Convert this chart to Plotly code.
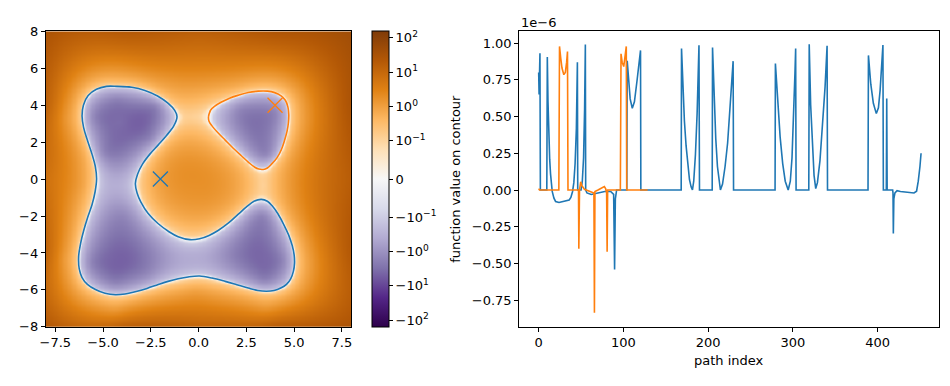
import numpy as np
import plotly.graph_objects as go

# ---------------- data ----------------
# zero-level contour (blue, large region), data coordinates
blue_cx = [-4.28, -3.50, -2.81, -2.15, -1.59, -1.25, -1.13, -1.30, -1.68, -2.11, -2.55, -2.93, -3.20, -3.31,
           -3.22, -3.02, -2.65, -2.11, -1.55, -1.07, -0.45, 0.05, 0.55, 1.04, 1.60, 2.08, 2.55, 2.90, 3.28,
           3.60, 3.85, 4.15, 4.45, 4.72, 4.90, 5.00, 5.02, 4.96, 4.82, 4.60, 4.30, 3.95, 3.55, 3.10, 2.60,
           2.00, 1.39, 0.70, 0.05, -0.55, -1.07, -1.60, -2.11, -2.70, -3.32, -3.85, -4.36, -4.90, -5.40,
           -5.82, -6.10, -6.25, -6.28, -6.17, -6.01, -5.80, -5.58, -5.42, -5.34, -5.40, -5.58, -5.82, -6.02,
           -6.10, -6.03, -5.78, -5.35, -4.82]
blue_cy = [5.02, 4.97, 4.80, 4.50, 4.10, 3.72, 3.38, 2.88, 2.36, 1.85, 1.35, 0.82, 0.25, -0.25,
           -0.75, -1.25, -1.85, -2.42, -2.85, -3.12, -3.28, -3.23, -3.05, -2.77, -2.35, -1.90, -1.47, -1.20, -1.10,
           -1.20, -1.45, -1.88, -2.45, -3.05, -3.60, -4.10, -4.55, -5.00, -5.40, -5.70, -5.90, -6.03, -6.07, -6.03, -5.90,
           -5.72, -5.54, -5.36, -5.25, -5.30, -5.40, -5.54, -5.71, -5.92, -6.10, -6.22, -6.26, -6.18, -5.98,
           -5.70, -5.33, -4.85, -4.20, -3.45, -2.77, -2.05, -1.39, -0.70, 0.00, 0.65, 1.35, 2.10, 2.80,
           3.41, 4.00, 4.52, 4.86, 5.02]
# zero-level contour (orange, upper-right region)
orange_cx = [0.52, 0.62, 0.85, 1.20, 1.62, 2.08, 2.60, 3.12, 3.60, 3.98, 4.30, 4.54, 4.67, 4.72, 4.70, 4.63,
             4.50, 4.33, 4.10, 3.83, 3.60, 3.38, 3.15, 2.94, 2.60, 2.25, 1.80, 1.39, 1.00, 0.70, 0.54]
orange_cy = [3.40, 3.72, 3.95, 4.17, 4.38, 4.54, 4.69, 4.76, 4.76, 4.68, 4.52, 4.27, 3.92, 3.50, 3.05, 2.60,
             2.10, 1.59, 1.15, 0.82, 0.60, 0.52, 0.54, 0.64, 0.92, 1.25, 1.68, 2.11, 2.52, 2.88, 3.15]

# function values estimated from the colours of the image
samp_x = [-4.1, -4.5, 3.4, 3.3, -4.3, -0.3,
          -4.3, -5.4, -2.3, -2.6, -4.9,
          -5.55, -4.4, -2.8, -4.0,
          4.3, 3.4, 3.3, 1.8,
          4.0, 2.2, 3.5,
          -0.3, -0.28, 3.38,
          -4.3, -1.6, 3.1, 5.55, 5.85, 3.5, -0.2, -4.4, -7.05, -6.15, -6.9,
          -8, -4, 0, 4, 8, 8, 8, 8, 8, 4, 0, -4, -8, -8, -8, -8]
samp_y = [3.1, -4.3, -4.3, 3.0, -0.3, -4.3,
          4.3, 3.4, 3.9, 2.3, 1.5,
          -4.5, -5.55, -5.1, -2.0,
          -4.4, -5.4, -2.0, -4.1,
          3.6, 3.8, 1.4,
          -0.4, 3.42, -0.30,
          5.85, 5.3, 5.6, 3.2, -4.5, -6.9, -6.1, -7.05, -4.3, -0.3, 3.3,
          8, 8, 8, 8, 8, 4, 0, -4, -8, -8, -8, -8, -8, -4, 0, 4]
samp_f = [-3.6, -4.4, -4.0, -3.0, -0.35, -0.4,
          -1.8, -1.8, -1.8, -1.8, -1.8,
          -1.8, -1.8, -1.5, -1.5,
          -1.8, -1.8, -1.6, -1.8,
          -1.5, -1.5, -1.5,
          1.7, 0.12, 0.12,
          1.2, 1.2, 1.2, 1.2, 1.2, 1.2, 1.0, 1.2, 1.2, 0.9, 1.2,
          30, 20, 15, 25, 45, 30, 18, 22, 30, 18, 12, 15, 25, 12, 7, 14]

start_x = [-2.0, 4.0]
start_y = [0.0, 4.0]

# right panel: function value on contour (units of 1e-6)
blue_idx = [0, 0.5, 1.5, 2.0, 9.6, 10.2, 11, 12, 13, 14, 15, 16, 18, 20, 24, 28, 32, 36, 38, 40, 41.5, 43,
            44.5, 45.7, 46.1, 50, 51.5, 53, 54.2, 55.1, 55.5, 57, 62, 70, 78, 85, 88.5, 89.6, 90.5, 92,
            104, 104.5, 106, 108, 110.5, 113, 116, 118.5, 120.2, 120.6,
            168.2, 168.6, 170, 172, 174, 176, 178, 180, 181.5, 183, 185, 187, 188.3, 189.2, 189.8,
            204.8, 205.2, 207, 209, 211, 213, 214.5, 217, 220, 223, 226, 228.5, 229.5, 230,
            279, 279.4, 282, 285, 288, 291, 294.5, 297, 299, 301, 302.5, 303.3, 303.8,
            318.8, 319.3, 321, 323, 325, 327, 329, 332, 335, 338, 340.4, 340.9,
            388.7, 389.2, 392, 395, 398.5, 401, 403, 405, 406.3, 406.8,
            410.3, 410.8, 411.3, 417.8, 418.2, 418.6, 419.2, 420.5, 423, 427, 432, 438, 443, 446, 448, 450, 451.3]
blue_val = [0.80, 0.65, 0.93, 0.0, 0.0, 0.905, 0.60, 0.36, 0.21, 0.11, 0.04, -0.01, -0.055, -0.078, -0.085,
            -0.08, -0.075, -0.068, -0.05, -0.01, 0.05, 0.18,
            0.42, 0.87, 0.0, 0.0, 0.06, 0.22, 0.55, 0.99, 0.0, -0.02, -0.03, -0.02, -0.01, -0.01, -0.03, -0.54,
            -0.06, 0.0,
            0.0, 0.88, 0.74, 0.62, 0.556, 0.60, 0.74, 0.87, 0.95, 0.0,
            0.0, 0.963, 0.70, 0.47, 0.30, 0.17, 0.07, 0.02, 0.0, 0.06, 0.24, 0.52, 0.78, 0.985, 0.0,
            0.0, 0.97, 0.62, 0.35, 0.16, 0.04, 0.0, 0.04, 0.16, 0.32, 0.55, 0.78, 0.877, 0.0,
            0.0, 0.861, 0.60, 0.36, 0.18, 0.06, 0.0, 0.06, 0.22, 0.50, 0.80, 0.963, 0.0,
            0.0, 0.992, 0.58, 0.30, 0.10, 0.01, 0.05, 0.20, 0.42, 0.70, 0.981, 0.0,
            0.0, 0.916, 0.72, 0.59, 0.52, 0.56, 0.68, 0.86, 0.987, 0.0,
            0.0, 0.622, 0.0, 0.0, -0.02, -0.296, -0.06, -0.02, -0.005, -0.01, -0.012, -0.016, -0.02, -0.008,
            0.06, 0.16, 0.25]
orange_idx = [0, 1, 23.8, 24.6, 26, 27.5, 29.7, 31.5, 33, 34, 34.6, 47.0, 47.4, 48.2, 49.6, 51, 54, 58, 62,
              65.2, 65.8, 66.4, 70, 74, 77.5, 79, 80.2, 80.8, 81.4, 83, 96.4, 97.2, 98.5, 100.4, 102, 103.4,
              103.9, 128.6]
orange_val = [0.01, 0.0, 0.0, 0.977, 0.90, 0.83, 0.785, 0.80, 0.87, 0.942, 0.0, 0.0, -0.40, 0.0, 0.056, 0.03,
              0.005, -0.005, -0.01, -0.02, -0.836, -0.01, 0.0, 0.01, 0.024, 0.01, -0.02, -0.42, 0.0, 0.0, 0.0,
              0.927, 0.87, 0.84, 0.90, 0.977, 0.0, 0.0]

cbar_vals = [100, 10, 1, 0.1, 0, -0.1, -1, -10, -100]
cbar_text = ["10<sup>2</sup>", "10<sup>1</sup>", "10<sup>0</sup>", "10<sup>\u22121</sup>", "0",
             "\u221210<sup>\u22121</sup>", "\u221210<sup>0</sup>", "\u221210<sup>1</sup>", "\u221210<sup>2</sup>"]
vmax = 158.0

# ---------------- helpers ----------------
def symlog(f, lt=0.1, ls=1.0):
    f = np.asarray(f, dtype=float)
    adj = ls / (1 - 1 / 10.0)
    a = np.abs(f)
    out = np.where(a <= lt, a / lt * adj, adj + np.log10(np.maximum(a, 1e-300) / lt))
    return np.sign(f) * out

def tps_kernel(r):
    with np.errstate(divide="ignore", invalid="ignore"):
        k = r * r * np.log(r)
    return np.where(r > 0, k, 0.0)

# scattered values -> smooth field (thin plate spline through the read values)
C = 0.5
px = np.concatenate([blue_cx, orange_cx, samp_x])
py = np.concatenate([blue_cy, orange_cy, samp_y])
pf = np.concatenate([np.zeros(len(blue_cx) + len(orange_cx)), samp_f])
ps = np.arcsinh(pf / C)
N = len(px)
R = np.hypot(px[:, None] - px[None, :], py[:, None] - py[None, :])
K = tps_kernel(R)
Q = np.column_stack([np.ones(N), px, py])
A = np.zeros((N + 3, N + 3))
A[:N, :N] = K
A[:N, N:] = Q
A[N:, :N] = Q.T
rhs = np.concatenate([ps, np.zeros(3)])
coef = np.linalg.lstsq(A, rhs, rcond=None)[0]
w, a = coef[:N], coef[N:]

ng = 240
d = 16.0 / ng
gx = np.linspace(-8 + d / 2, 8 - d / 2, ng)
gy = np.linspace(-8 + d / 2, 8 - d / 2, ng)
GX, GY = np.meshgrid(gx, gy)
gxf, gyf = GX.ravel(), GY.ravel()
Rg = np.hypot(gxf[:, None] - px[None, :], gyf[:, None] - py[None, :])
S = tps_kernel(Rg) @ w + a[0] + a[1] * gxf + a[2] * gyf
F = (C * np.sinh(S)).reshape(ng, ng)
T = symlog(F)
tmax = float(symlog(vmax))

puor = ['rgb(45,0,75)', 'rgb(84,39,136)', 'rgb(128,115,172)', 'rgb(178,171,210)', 'rgb(216,218,235)',
        'rgb(247,247,247)', 'rgb(254,224,182)', 'rgb(253,184,99)', 'rgb(224,130,20)', 'rgb(179,88,6)',
        'rgb(127,59,8)']
cscale = [[i / 10, c] for i, c in enumerate(puor)]

BLUE = "#1f77b4"
ORANGE = "#ff7f0e"
FONT = "DejaVu Sans"
FS = 13

# the page body has an 8px margin on every side: size the figure so that the
# page fits the window exactly, and express every position in window pixels
OFF = 8
W, H = 950 - 2 * OFF, 386 - 2 * OFF
def fx(p):
    return (p - OFF) / W
def fy(p):
    return 1 - (p - OFF) / H

fig = go.Figure()
fig.add_trace(go.Heatmap(
    x=gx, y=gy, z=T, zmin=-tmax, zmax=tmax, colorscale=cscale, zsmooth="best",
    hoverinfo="skip",
    colorbar=dict(x=fx(369), xanchor="left", xpad=0, ypad=0, y=fy(179), yanchor="middle",
                  len=308 / H, lenmode="fraction", thickness=17, thicknessmode="pixels",
                  outlinewidth=1, outlinecolor="black",
                  tickvals=[float(symlog(v)) for v in cbar_vals], ticktext=cbar_text,
                  ticks="outside", ticklen=4, tickwidth=1, tickcolor="black",
                  tickfont=dict(family=FONT, size=FS, color="black")),
    xaxis="x", yaxis="y"))

def closed(xs, ys):
    return list(xs) + [xs[0], xs[1]], list(ys) + [ys[0], ys[1]]

bx, by = closed(blue_cx, blue_cy)
ox, oy = closed(orange_cx, orange_cy)
fig.add_trace(go.Scatter(x=bx, y=by, mode="lines", line=dict(color=BLUE, width=1.6, shape="spline", smoothing=1.0),
                         hoverinfo="skip", showlegend=False, xaxis="x", yaxis="y"))
fig.add_trace(go.Scatter(x=ox, y=oy, mode="lines", line=dict(color=ORANGE, width=1.6, shape="spline", smoothing=1.0),
                         hoverinfo="skip", showlegend=False, xaxis="x", yaxis="y"))
for xi, yi, col in zip(start_x, start_y, [BLUE, ORANGE]):
    fig.add_trace(go.Scatter(x=[xi], y=[yi], mode="markers",
                             marker=dict(symbol="x-thin", size=15, line=dict(color=col, width=1.3)),
                             showlegend=False, xaxis="x", yaxis="y"))

fig.add_trace(go.Scatter(x=blue_idx, y=blue_val, mode="lines", line=dict(color=BLUE, width=1.6),
                         showlegend=False, xaxis="x2", yaxis="y2"))
fig.add_trace(go.Scatter(x=orange_idx, y=orange_val, mode="lines", line=dict(color=ORANGE, width=1.6),
                         showlegend=False, xaxis="x2", yaxis="y2"))

axis_common = dict(showline=True, linecolor="black", linewidth=1, mirror=True, ticks="outside",
                   ticklen=4, tickwidth=1, tickcolor="black", showgrid=False, zeroline=False,
                   tickfont=dict(family=FONT, size=FS, color="black"))

left_xt = [-7.5, -5.0, -2.5, 0.0, 2.5, 5.0, 7.5]
left_yt = [-8, -6, -4, -2, 0, 2, 4, 6, 8]
right_xt = [0, 100, 200, 300, 400]
right_yt = [-0.75, -0.5, -0.25, 0.0, 0.25, 0.5, 0.75, 1.0]

def mtxt(v, fmt):
    s = fmt.format(v)
    return s.replace("-", "\u2212")

fig.update_layout(
    width=W, height=H, margin=dict(l=0, r=0, t=0, b=0),
    paper_bgcolor="white", plot_bgcolor="white", showlegend=False,
    xaxis=dict(domain=[fx(40), fx(348)], range=[-8, 8], tickvals=left_xt,
               ticktext=[mtxt(v, "{:.1f}") for v in left_xt], anchor="y", **axis_common),
    yaxis=dict(domain=[fy(333), fy(25)], range=[-8, 8], tickvals=left_yt,
               ticktext=[mtxt(v, "{:d}") for v in left_yt], anchor="x", **axis_common),
    xaxis2=dict(domain=[fx(517), fx(940)], range=[-23.0, 472.5], tickvals=right_xt,
                ticktext=[str(v) for v in right_xt], anchor="y2", **axis_common),
    yaxis2=dict(domain=[fy(333), fy(25)], range=[-0.931, 1.080], tickvals=right_yt,
                ticktext=[mtxt(v, "{:.2f}") for v in right_yt], anchor="x2", **axis_common),
    annotations=[
        dict(text="function value on contour", x=fx(452), y=fy(179), xref="paper", yref="paper",
             showarrow=False, textangle=-90, xanchor="center", yanchor="middle",
             font=dict(family=FONT, size=FS, color="black")),
        dict(text="path index", x=fx(728), y=fy(368), xref="paper", yref="paper",
             showarrow=False, xanchor="center", yanchor="middle",
             font=dict(family=FONT, size=FS, color="black")),
        dict(text="1e\u22126", x=fx(517), y=fy(16), xref="paper", yref="paper",
             showarrow=False, xanchor="left", yanchor="middle",
             font=dict(family=FONT, size=FS, color="black")),
    ],
)

fig.write_html("out.html")
